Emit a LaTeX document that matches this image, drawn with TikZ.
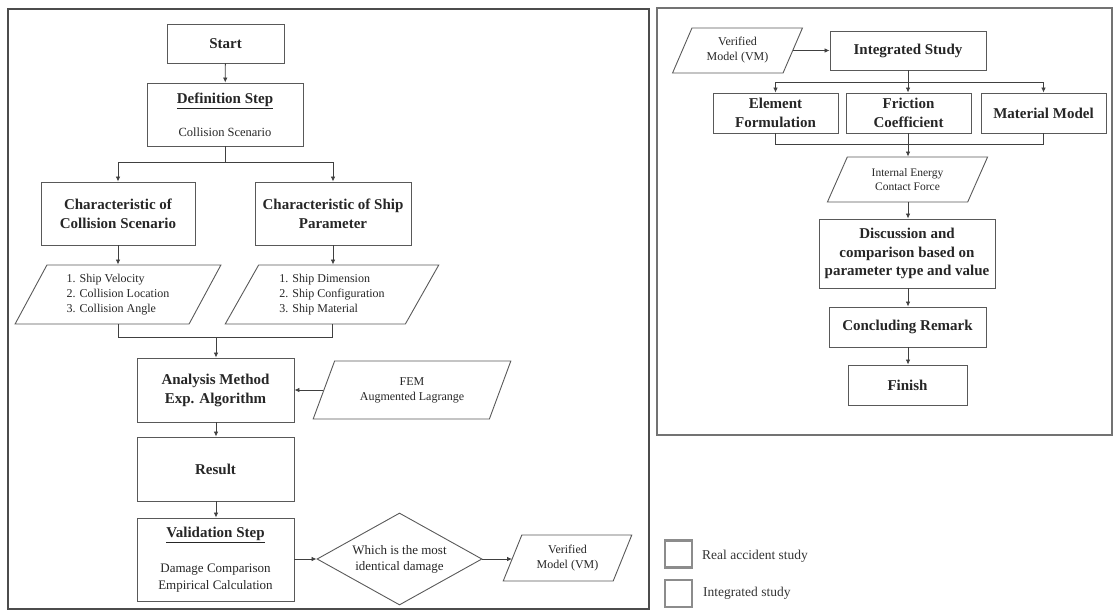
\documentclass[tikz,border=0pt]{standalone}
\usepackage{fontspec}
\setmainfont{Liberation Serif}
\usetikzlibrary{shapes.geometric,arrows.meta}
\tikzset{
  base/.style={draw=black!65, line width=0.9pt, text=black!85, inner sep=2pt, align=center},
  proc/.style={base, rectangle, font=\fontsize{15}{19}\selectfont\bfseries},
  io/.style 2 args={base, trapezium, trapezium left angle=#1, trapezium right angle=#2,
     trapezium stretches=true, font=\fontsize{12}{15}\selectfont},
  decide/.style={base, diamond, aspect=1.8, inner sep=0pt, font=\fontsize{13}{16}\selectfont},
  arr/.style={-{Latex[length=5pt,width=4.5pt]}, draw=black!75, line width=0.8pt},
  link/.style={draw=black!75, line width=0.8pt},
  legbox/.style={draw=black!45, line width=2.5pt, minimum width=27pt, minimum height=27pt, inner sep=0pt},
  legtext/.style={anchor=west, text=black!80, font=\fontsize{13.5}{16}\selectfont, inner sep=0pt}
}
\begin{document}
\begin{tikzpicture}[x=1pt,y=-1pt]
\useasboundingbox (0,0) rectangle (1116,613);
% frames
\draw[draw=black!70, line width=1.8pt] (8,9) rectangle (649,609);
\draw[draw=black!55, line width=1.5pt] (657,8) rectangle (1112,435);

% ---------- left flow ----------
\node[proc, minimum width=117pt, minimum height=39pt] (start) at (225.5,43.5) {Start};
\node[proc, minimum width=156pt, minimum height=63pt] (def) at (225,114.5)
  {\underline{Definition Step}\\[14pt]{\mdseries\fontsize{12.5}{15}\selectfont Collision Scenario}};
\node[proc, minimum width=154pt, minimum height=63pt] (ccs) at (118,213.5) {Characteristic of\\Collision Scenario};
\node[proc, minimum width=156pt, minimum height=63pt] (csp) at (333,213.5) {Characteristic of Ship\\Parameter};
\node[io={62}{118}, align=left, minimum width=206pt, minimum height=59pt] (p1) at (118,294.5)
  {1. Ship Velocity\\2. Collision Location\\3. Collision Angle};
\node[io={61}{119}, align=left, minimum width=214pt, minimum height=59pt] (p2) at (332,294.5)
  {1. Ship Dimension\\2. Ship Configuration\\3. Ship Material};
\node[proc, minimum width=157pt, minimum height=64pt] (an) at (215.5,390) {Analysis Method\\Exp. Algorithm};
\node[io={63}{117}, minimum width=198pt, minimum height=58pt] (fem) at (412,390) {FEM\\Augmented Lagrange};
\node[proc, minimum width=157pt, minimum height=64pt] (res) at (215.5,469) {Result};
\node[base, rectangle, minimum width=157pt, minimum height=83pt, font=\fontsize{13}{17}\selectfont] (val) at (215.5,559.5)
  {{\fontsize{15}{17}\selectfont\bfseries\underline{Validation Step}}\\[18pt]Damage Comparison\\Empirical Calculation};
\node[decide, minimum width=165pt, minimum height=92pt] (dia) at (399.5,559) {Which is the most\\identical damage};
\node[io={66}{114}, minimum width=129pt, minimum height=46pt] (vm1) at (567.5,558) {Verified\\Model (VM)};

\coordinate (b1) at (225,162);
\coordinate (m1) at (216,337);
\draw[arr] (start) -- (def);
\draw[link] (def.south) -- (b1);
\draw[arr] (b1) -| (ccs.north);
\draw[arr] (b1) -| (csp.north);
\draw[arr] (ccs.south) -- (ccs.south |- p1.north);
\draw[arr] (csp.south) -- (csp.south |- p2.north);
\draw[link] (p1.south) |- (m1);
\draw[link] (p2.south) |- (m1);
\draw[arr] (m1) -- (m1 |- an.north);
\draw[arr] (fem.west) -- (fem.west -| an.east);
\draw[arr] (an.south -| m1) -- (res.north -| m1);
\draw[arr] (res.south -| m1) -- (val.north -| m1);
\draw[arr] (val.east |- dia.west) -- (dia.west);
\draw[arr] (dia.east) -- (vm1.west |- dia.east);

% ---------- right flow ----------
\node[io={65}{115}, minimum width=131pt, minimum height=45pt] (vm2) at (737.5,50.5) {Verified\\Model (VM)};
\node[proc, minimum width=156pt, minimum height=39pt] (integ) at (908,50.5) {Integrated Study};
\node[proc, minimum width=125pt, minimum height=40pt] (ef) at (775.5,113) {Element\\Formulation};
\node[proc, minimum width=125pt, minimum height=40pt] (fc) at (908.5,113) {Friction\\Coefficient};
\node[proc, minimum width=125pt, minimum height=40pt] (mm) at (1043.5,113) {Material Model};
\node[io={64}{116}, minimum width=161pt, minimum height=45pt, font=\fontsize{11.5}{13.5}\selectfont] (ie) at (907.5,179.5) {Internal Energy\\Contact Force};
\node[proc, minimum width=176pt, minimum height=69pt, font=\fontsize{15}{18.5}\selectfont\bfseries] (disc) at (907,253.5) {Discussion and\\comparison based on\\parameter type and value};
\node[proc, minimum width=157pt, minimum height=40pt] (conc) at (907.5,327) {Concluding Remark};
\node[proc, minimum width=119pt, minimum height=40pt] (fin) at (907.5,385) {Finish};

\coordinate (b2) at (908,82);
\coordinate (m2) at (908,144);
\draw[arr] (vm2.east) -- (integ.west |- vm2.east);
\draw[link] (integ.south) -- (b2);
\draw[arr] (b2) -| (ef.north);
\draw[arr] (b2) -- (b2 |- fc.north);
\draw[arr] (b2) -| (mm.north);
\draw[link] (ef.south) |- (m2);
\draw[link] (mm.south) |- (m2);
\draw[link] (fc.south -| m2) -- (m2);
\draw[arr] (m2) -- (m2 |- ie.north);
\draw[arr] (ie.south -| m2) -- (disc.north -| m2);
\draw[arr] (disc.south -| m2) -- (conc.north -| m2);
\draw[arr] (conc.south -| m2) -- (fin.north -| m2);

% ---------- legend ----------
\node[legbox] (lg1) at (678.5,554) {};
\node[legbox] (lg2) at (678.5,593.5) {};
\node[legtext] (lt1) at (702,556) {Real accident study};
\node[legtext] (lt2) at (703,593) {Integrated study};
\end{tikzpicture}
\end{document}
